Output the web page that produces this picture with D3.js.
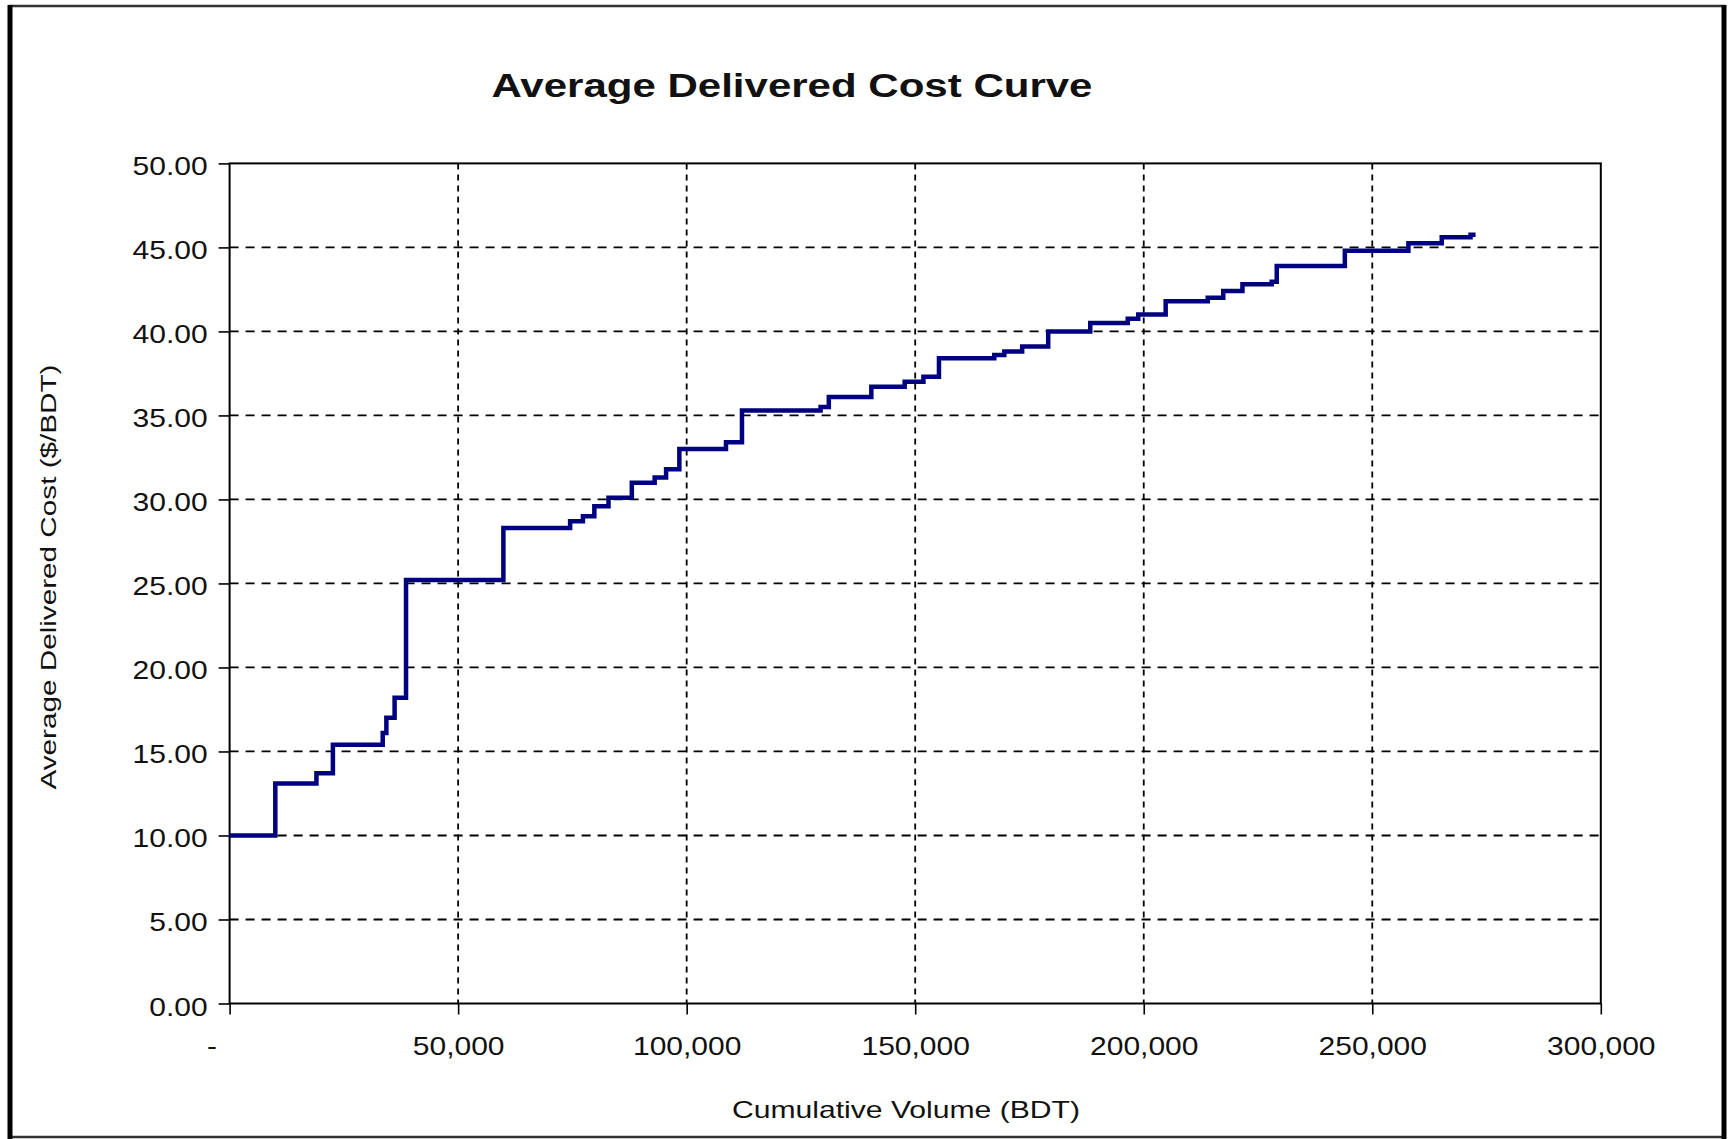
<!DOCTYPE html>
<html lang="en">
<head>
  <meta charset="UTF-8">
  <title>Average Delivered Cost Curve</title>
  <script src="https://d3js.org/d3.v7.min.js"></script>
  <style>
    body {
      margin: 0;
      background: #fff;
    }
    svg text {
      font-family: "Liberation Sans", Arial, sans-serif;
      fill: #111;
    }
    .tick line {
      stroke: #000;
      stroke-width: 1.6px;
    }
    .grid-h line {
      stroke: #000;
      stroke-width: 1.8px;
      stroke-dasharray: 9, 7;
    }
    .grid-v line {
      stroke: #000;
      stroke-width: 1.8px;
      stroke-dasharray: 6, 5;
    }
    .cost-line {
      fill: none;
      stroke: #000080;
      stroke-width: 4.5px;
    }
  </style>
</head>
<body>
  <div id="chart"></div>

  <script>
    // step curve: cumulative volume (BDT) where each cost level starts
    const volumes = [
      0, 10000, 19000, 22600, 33500, 34300, 36100, 38600, 59900, 74500,
      77300, 79800, 82900, 88000, 93000, 95500, 98400, 108600, 112100, 129300,
      131100, 140400, 147700, 151800, 155200, 167300, 169500, 173400, 179100, 188300,
      196500, 198800, 204800, 214000, 217400, 221600, 228000, 229100, 244000, 257900,
      265200, 271500, 272600
    ];
    const costs = [
      10.0, 13.1, 13.7, 15.4, 16.1, 17.0, 18.2, 25.2, 28.3, 28.7,
      29.0, 29.6, 30.1, 31.0, 31.3, 31.8, 33.0, 33.4, 35.3, 35.5,
      36.1, 36.7, 37.0, 37.3, 38.4, 38.6, 38.8, 39.1, 40.0, 40.5,
      40.75, 41.0, 41.8, 42.0, 42.4, 42.8, 42.95, 43.9, 44.8, 45.25,
      45.6, 45.75, 45.75
    ];
    const xTicks = [0, 50000, 100000, 150000, 200000, 250000, 300000];
    const yTicks = [0, 5, 10, 15, 20, 25, 30, 35, 40, 45, 50];

    const W = 1731, H = 1139;
    const plot = { left: 229.6, top: 163.4, right: 1600.8, bottom: 1003.5 };

    const svg = d3.select("#chart")
      .append("svg")
      .attr("width", W)
      .attr("height", H);

    svg.append("rect")
      .attr("width", W)
      .attr("height", H)
      .attr("fill", "#fff");

    const x = d3.scaleLinear().domain([0, 300000]).range([plot.left, plot.right]);
    const y = d3.scaleLinear().domain([0, 50]).range([plot.bottom, plot.top]);

    // gridlines
    svg.append("g")
      .attr("class", "grid-h")
      .selectAll("line")
      .data(yTicks.filter(d => d > 0 && d < 50))
      .enter()
      .append("line")
      .attr("x1", plot.left)
      .attr("x2", plot.right)
      .attr("y1", d => y(d))
      .attr("y2", d => y(d));

    svg.append("g")
      .attr("class", "grid-v")
      .selectAll("line")
      .data(xTicks.filter(d => d > 0 && d < 300000))
      .enter()
      .append("line")
      .attr("x1", d => x(d))
      .attr("x2", d => x(d))
      .attr("y1", plot.top)
      .attr("y2", plot.bottom);

    // axes
    const yAxis = svg.append("g")
      .attr("transform", `translate(${plot.left},0)`)
      .call(d3.axisLeft(y).tickValues(yTicks).tickSize(11).tickPadding(0)
        .tickFormat(d3.format(".2f")));
    yAxis.select(".domain").remove();
    yAxis.selectAll("text")
      .attr("x", -22)
      .attr("dy", null)
      .attr("y", 11.5)
      .attr("font-size", 25)
      .attr("fill", "#111");

    const xAxis = svg.append("g")
      .attr("transform", `translate(0,${plot.bottom})`)
      .call(d3.axisBottom(x).tickValues(xTicks).tickSize(11).tickPadding(0)
        .tickFormat(d => d === 0 ? "-" : d3.format(",")(d)));
    xAxis.select(".domain").remove();
    xAxis.selectAll("text")
      .attr("dy", null)
      .attr("y", 51)
      .attr("font-size", 25)
      .attr("fill", "#111")
      .attr("dx", d => d === 0 ? -18 : 0);

    // plot frame
    svg.append("rect")
      .attr("x", plot.left)
      .attr("y", plot.top)
      .attr("width", plot.right - plot.left)
      .attr("height", plot.bottom - plot.top)
      .attr("fill", "none")
      .attr("stroke", "#000")
      .attr("stroke-width", 2);

    // cost curve
    const points = volumes.map((v, i) => [v, costs[i]]);
    const line = d3.line()
      .x(d => x(d[0]))
      .y(d => y(d[1]))
      .curve(d3.curveStepAfter);

    svg.append("path")
      .datum(points)
      .attr("class", "cost-line")
      .attr("d", line);

    // titles
    svg.append("text")
      .attr("x", 792)
      .attr("y", 97)
      .attr("text-anchor", "middle")
      .attr("font-size", 33)
      .attr("font-weight", "bold")
      .attr("fill", "#000")
      .attr("textLength", 601)
      .attr("lengthAdjust", "spacingAndGlyphs")
      .text("Average Delivered Cost Curve");

    svg.append("text")
      .attr("transform", "translate(56,577) rotate(-90)")
      .attr("text-anchor", "middle")
      .attr("font-size", 22)
      .attr("textLength", 425)
      .attr("lengthAdjust", "spacingAndGlyphs")
      .text("Average Delivered Cost ($/BDT)");

    svg.append("text")
      .attr("x", 906)
      .attr("y", 1118)
      .attr("text-anchor", "middle")
      .attr("font-size", 24)
      .attr("textLength", 348)
      .attr("lengthAdjust", "spacingAndGlyphs")
      .text("Cumulative Volume (BDT)");

    // widen tick labels like the source image
    svg.selectAll(".tick text").each(function() {
      const len = this.getComputedTextLength();
      d3.select(this)
        .attr("textLength", len * 1.2)
        .attr("lengthAdjust", "spacingAndGlyphs");
    });

    // outer frame
    svg.append("rect")
      .attr("x", 10)
      .attr("y", 6)
      .attr("width", 1714)
      .attr("height", 1131)
      .attr("fill", "none")
      .attr("stroke", "#333")
      .attr("stroke-width", 2.5);
    svg.append("line")
      .attr("x1", 10).attr("x2", 10).attr("y1", 5).attr("y2", 1139)
      .attr("stroke", "#000").attr("stroke-width", 5);
    svg.append("line")
      .attr("x1", 1724).attr("x2", 1724).attr("y1", 5).attr("y2", 1139)
      .attr("stroke", "#000").attr("stroke-width", 5);
  </script>
</body>
</html>
